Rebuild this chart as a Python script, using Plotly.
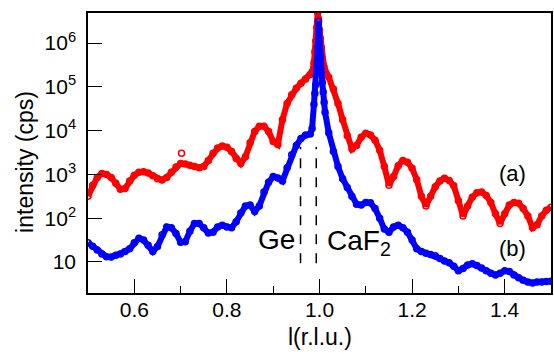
import plotly.graph_objects as go

# ---------------- data ----------------
red_x = [0.50, 0.51, 0.52, 0.53, 0.54, 0.55, 0.56, 0.57, 0.58, 0.59,
         0.60, 0.61, 0.62, 0.63, 0.64, 0.65, 0.66, 0.67, 0.68, 0.69,
         0.70, 0.71, 0.72, 0.73, 0.74, 0.75, 0.76, 0.77, 0.78, 0.79,
         0.80, 0.81, 0.82, 0.83, 0.84, 0.85, 0.86, 0.87, 0.88, 0.89,
         0.90, 0.91, 0.92, 0.93, 0.94, 0.95, 0.96, 0.97, 0.98,
         0.984, 0.988, 0.990, 0.992, 0.994, 0.996, 0.998, 1.000, 1.002,
         1.004, 1.006, 1.008, 1.01, 1.02, 1.03, 1.04, 1.05, 1.06, 1.07,
         1.08, 1.09, 1.10, 1.11, 1.12, 1.13, 1.14, 1.15, 1.16, 1.17,
         1.18, 1.19, 1.20, 1.21, 1.22, 1.23, 1.24, 1.25, 1.26, 1.27,
         1.28, 1.29, 1.30, 1.31, 1.32, 1.33, 1.34, 1.35, 1.36, 1.37,
         1.38, 1.39, 1.40, 1.41, 1.42, 1.43, 1.44, 1.45, 1.46, 1.47,
         1.48, 1.49, 1.50]
red_log = [2.50, 2.75, 2.93, 3.02, 3.00, 2.93, 2.80, 2.66, 2.68, 2.85,
           2.98, 3.05, 3.06, 3.03, 2.97, 2.90, 2.87, 2.93, 3.05, 3.17,
           3.25, 3.24, 3.21, 3.18, 3.15, 3.18, 3.32, 3.48, 3.60, 3.65,
           3.62, 3.52, 3.36, 3.25, 3.40, 3.72, 3.98, 4.10, 4.10, 3.98,
           3.75, 3.68, 4.25, 4.62, 4.82, 4.97, 5.08, 5.18, 5.28,
           5.34, 5.55, 5.80, 6.05, 6.35, 6.70, 6.55, 6.30, 6.10,
           5.90, 5.65, 5.50, 5.45, 5.22, 4.95, 4.62, 4.25, 3.88, 3.58,
           3.66, 3.85, 3.94, 3.90, 3.78, 3.55, 3.18, 2.75, 2.95, 3.20,
           3.32, 3.28, 3.14, 2.88, 2.50, 2.28, 2.50, 2.72, 2.85, 2.91,
           2.86, 2.74, 2.40, 2.05, 2.28, 2.48, 2.58, 2.60, 2.52, 2.36,
           2.10, 1.88, 2.10, 2.30, 2.36, 2.34, 2.22, 2.05, 1.78, 1.85,
           2.05, 2.18, 2.25]
red_outlier_x = [0.702]
red_outlier_log = [3.48]

blue_x = [0.50, 0.51, 0.52, 0.53, 0.54, 0.55, 0.56, 0.57, 0.58, 0.59,
          0.60, 0.61, 0.62, 0.63, 0.64, 0.65, 0.66, 0.67, 0.68, 0.69,
          0.70, 0.71, 0.72, 0.73, 0.74, 0.75, 0.76, 0.77, 0.78, 0.79,
          0.80, 0.81, 0.82, 0.83, 0.84, 0.85, 0.86, 0.87, 0.88, 0.89,
          0.90, 0.91, 0.92, 0.93, 0.94, 0.95, 0.96, 0.97, 0.98,
          0.984, 0.988, 0.990, 0.992, 0.994, 0.996, 0.998, 1.000, 1.002,
          1.004, 1.006, 1.008, 1.010, 1.012, 1.02, 1.03, 1.04, 1.05, 1.06,
          1.07, 1.08, 1.09, 1.10, 1.11, 1.12, 1.13, 1.14, 1.15, 1.16,
          1.17, 1.18, 1.19, 1.20, 1.21, 1.22, 1.23, 1.24, 1.25, 1.26,
          1.27, 1.28, 1.29, 1.30, 1.31, 1.32, 1.33, 1.34, 1.35, 1.36,
          1.37, 1.38, 1.39, 1.40, 1.41, 1.42, 1.43, 1.44, 1.45, 1.46,
          1.47, 1.48, 1.49, 1.50]
blue_log = [1.44, 1.36, 1.27, 1.18, 1.12, 1.11, 1.15, 1.18, 1.24, 1.30,
            1.44, 1.54, 1.50, 1.38, 1.24, 1.35, 1.62, 1.80, 1.78, 1.65,
            1.45, 1.46, 1.70, 1.88, 1.88, 1.78, 1.66, 1.68, 1.80, 1.84,
            1.80, 1.78, 1.92, 2.12, 2.28, 2.30, 2.15, 2.28, 2.60, 2.82,
            2.95, 2.92, 2.85, 3.15, 3.45, 3.66, 3.82, 3.90, 3.92,
            4.05, 4.60, 4.85, 5.05, 5.40, 5.90, 6.50, 6.00, 5.70,
            5.30, 5.10, 4.88, 4.65, 4.42, 3.95, 3.52, 3.18, 2.90, 2.70,
            2.50, 2.32, 2.30, 2.36, 2.35, 2.22, 2.00, 1.75, 1.68, 1.80,
            1.84, 1.78, 1.68, 1.50, 1.30, 1.24, 1.20, 1.17, 1.14, 1.08,
            1.02, 0.98, 0.90, 0.80, 0.85, 0.93, 0.96, 0.92, 0.86, 0.80,
            0.74, 0.70, 0.74, 0.80, 0.78, 0.70, 0.64, 0.58, 0.54, 0.52,
            0.54, 0.54, 0.55, 0.56]

ref_lines_x = [0.959, 0.993]          # Ge and CaF2 positions
ref_line_y = [9.3, 4200]

y_tickvals = [10, 1e2, 1e3, 1e4, 1e5, 1e6]
y_ticktext = ["10", "10<sup>2</sup>", "10<sup>3</sup>", "10<sup>4</sup>",
              "10<sup>5</sup>", "10<sup>6</sup>"]
x_tickvals = [0.6, 0.8, 1.0, 1.2, 1.4]
x_ticktext = ["0.6", "0.8", "1.0", "1.2", "1.4"]

red_y = [10 ** v for v in red_log]
blue_y = [10 ** v for v in blue_log]
red_out_y = [10 ** v for v in red_outlier_log]

RED = "#ff0000"
BLUE = "#0000ff"
FONT = "Liberation Sans, Arial, Helvetica, sans-serif"

fig = go.Figure()
for xs, ys, c in [(red_x, red_y, RED), (blue_x, blue_y, BLUE)]:
    fig.add_trace(go.Scatter(
        x=xs, y=ys, mode="lines+markers",
        line=dict(color=c, width=6),
        marker=dict(symbol="circle-open", size=6, color=c, line=dict(width=1.5, color=c)),
        showlegend=False, hoverinfo="skip"))
fig.add_trace(go.Scatter(
    x=red_outlier_x, y=red_out_y, mode="markers",
    marker=dict(symbol="circle-open", size=6, color=RED, line=dict(width=1.5, color=RED)),
    showlegend=False, hoverinfo="skip"))
for xv in ref_lines_x:
    fig.add_trace(go.Scatter(
        x=[xv, xv], y=ref_line_y, mode="lines",
        line=dict(color="black", width=1.5, dash="10px,9px"),
        showlegend=False, hoverinfo="skip"))

fig.update_layout(
    width=554, height=355,
    margin=dict(l=88, r=1, t=13, b=62),
    paper_bgcolor="white", plot_bgcolor="white",
    font=dict(family=FONT, size=21, color="black"),
    xaxis=dict(range=[0.5, 1.5], tickvals=x_tickvals, ticktext=x_ticktext,
               ticks="inside", ticklen=14, tickwidth=1.2, tickcolor="black",
               minor=dict(ticks="inside", ticklen=7, dtick=0.1, tick0=0.5,
                          tickwidth=1.2, tickcolor="black", showgrid=False),
               showline=True, linecolor="black", linewidth=1.5, mirror=True,
               showgrid=False, zeroline=False, ticklabelstandoff=-3,
               tickfont=dict(size=21)),
    yaxis=dict(type="log", range=[0.29, 6.687], tickvals=y_tickvals, ticktext=y_ticktext,
               ticks="inside", ticklen=14, tickwidth=1.2, tickcolor="black",
               showline=True, linecolor="black", linewidth=1.5, mirror=True,
               showgrid=False, zeroline=False, ticklabelstandoff=6,
               tickfont=dict(size=21)),
    annotations=[
        dict(text="intensity (cps)", xref="paper", yref="paper", x=-0.135, y=0.47,
             textangle=-90, showarrow=False, font=dict(size=23),
             xanchor="center", yanchor="middle"),
        dict(text="l(r.l.u.)", xref="paper", yref="paper", x=0.5, y=-0.158,
             showarrow=False, font=dict(size=23), xanchor="center", yanchor="middle"),
        dict(text="Ge", x=0.9065, y=1.52, xref="x", yref="y", showarrow=False,
             font=dict(size=28), xanchor="center", yanchor="middle"),
        dict(text="CaF<sub>2</sub>", x=1.011, y=1.45, xref="x", yref="y", showarrow=False,
             font=dict(size=28), xanchor="left", yanchor="middle"),
        dict(text="(a)", x=1.4175, y=3.01, xref="x", yref="y", showarrow=False,
             font=dict(size=22), xanchor="center", yanchor="middle"),
        dict(text="(b)", x=1.4175, y=1.31, xref="x", yref="y", showarrow=False,
             font=dict(size=22), xanchor="center", yanchor="middle"),
    ],
)

fig.write_html("out.html")
